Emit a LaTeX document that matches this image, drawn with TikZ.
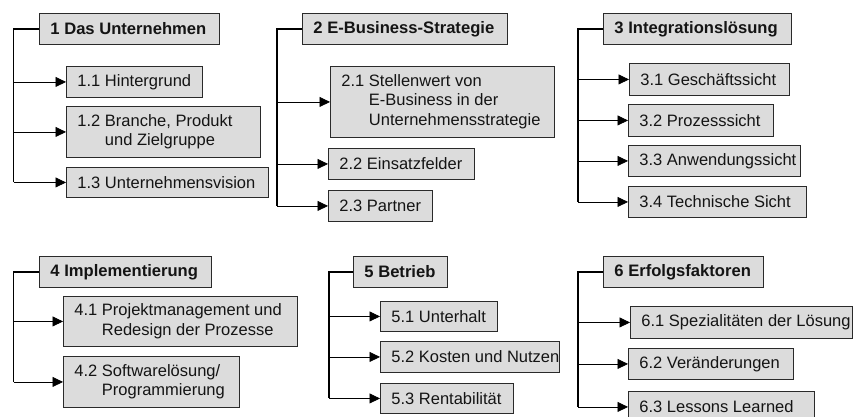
\documentclass[tikz,border=0pt]{standalone}
\usepackage{fontspec}
\setmainfont{Liberation Sans}
\usetikzlibrary{arrows.meta}

\definecolor{boxfill}{HTML}{DCDCDC}
\definecolor{boxline}{HTML}{2A2A2A}
\definecolor{inkcol}{HTML}{141414}

% \bx{name}{x}{y}{width}{height}{style}{text}: box with its top-left corner at (x,y)
\newcommand\bx[7]{%
  \node[#6, anchor=north west, minimum height=#5pt] (#1) at (#2,#3)
    {\makebox[\dimexpr#4pt-22pt\relax][l]{#7}};}
% numbered entry on two or three lines with a hanging indent
\newcommand\hang[2]{\begin{tabular}{@{}l@{ }l@{}}#1 & #2\end{tabular}}

\begin{document}
\begin{tikzpicture}[x=1pt,y=-1pt,
  box/.style={draw=boxline, fill=boxfill, line width=0.9pt, rectangle,
    inner xsep=11pt, inner ysep=0pt, text=inkcol,
    font=\fontsize{16.5pt}{19.5pt}\selectfont},
  headbox/.style={box, font=\fontsize{16.6pt}{19.5pt}\selectfont\bfseries},
  trunk/.style={draw=black, line width=1.2pt},
  branch/.style={draw=black, line width=0.8pt,
    -{Triangle[length=10.5pt,width=10pt]}}]

\useasboundingbox (0,0) rectangle (855,417);
\clip (0,0) rectangle (855,417);

% ---- 1 Das Unternehmen
\bx{h1}{39}{13}{180}{31}{headbox}{1 Das Unternehmen}
\bx{c11}{66}{66}{136}{31}{box}{1.1 Hintergrund}
\bx{c12}{66}{106}{194}{51}{box}{\hang{1.2}{Branche, Produkt\\ & und Zielgruppe}}
\bx{c13}{66}{167}{202}{30}{box}{1.3 Unternehmensvision}
\coordinate (t1) at (13.5,0);
\draw[trunk] (h1.west) -| (t1 |- c13.west);
\foreach \c in {c11,c12,c13} \draw[branch] (t1 |- \c.west) -- (\c.west);

% ---- 2 E-Business-Strategie
\bx{h2}{302}{13}{205}{31}{headbox}{2 E-Business-Strategie}
\bx{c21}{330}{66}{224}{71}{box}{\hang{2.1}{Stellenwert von\\ & E-Business in der\\ & Unternehmensstrategie}}
\bx{c22}{328}{148}{146}{31}{box}{2.2 Einsatzfelder}
\bx{c23}{328}{190}{104}{31}{box}{2.3 Partner}
\coordinate (t2) at (277,0);
\draw[trunk] (h2.west) -| (t2 |- c23.west);
\foreach \c in {c21,c22,c23} \draw[branch] (t2 |- \c.west) -- (\c.west);

% ---- 3 Integrationslösung
\bx{h3}{603}{13}{188}{31}{headbox}{3 Integrationslösung}
\bx{c31}{629}{63}{160}{32}{box}{3.1 Geschäftssicht}
\bx{c32}{628}{104}{145}{32}{box}{3.2 Prozesssicht}
\bx{c33}{628}{145}{172}{31}{box}{3.3 Anwendungssicht}
\bx{c34}{628}{186}{178}{31}{box}{3.4 Technische Sicht}
\coordinate (t3) at (578,0);
\draw[trunk] (h3.west) -| (t3 |- c34.west);
\foreach \c in {c31,c32,c33,c34} \draw[branch] (t3 |- \c.west) -- (\c.west);

% ---- 4 Implementierung
\bx{h4}{39}{256}{172}{31}{headbox}{4 Implementierung}
\bx{c41}{63}{296}{234}{50}{box}{\hang{4.1}{Projektmanagement und\\ & Redesign der Prozesse}}
\bx{c42}{63}{356}{176}{51}{box}{\hang{4.2}{Softwarelösung/\\ & Programmierung}}
\coordinate (t4) at (13.5,0);
\draw[trunk] (h4.west) -| (t4 |- c42.west);
\foreach \c in {c41,c42} \draw[branch] (t4 |- \c.west) -- (\c.west);

% ---- 5 Betrieb
\bx{h5}{353}{256}{94}{31}{headbox}{5 Betrieb}
\bx{c51}{380}{301}{117}{30}{box}{5.1 Unterhalt}
\bx{c52}{380}{341}{179}{31}{box}{5.2 Kosten und Nutzen}
\bx{c53}{380}{383}{133}{30}{box}{5.3 Rentabilität}
\coordinate (t5) at (329,0);
\draw[trunk] (h5.west) -| (t5 |- c53.west);
\foreach \c in {c51,c52,c53} \draw[branch] (t5 |- \c.west) -- (\c.west);

% ---- 6 Erfolgsfaktoren
\bx{h6}{603}{256}{160}{31}{headbox}{6 Erfolgsfaktoren}
\bx{c61}{630}{306}{222}{32}{box}{6.1 Spezialitäten der Lösung}
\bx{c62}{628}{348}{165}{31}{box}{6.2 Veränderungen}
\bx{c63}{628}{391}{186}{31}{box}{6.3 Lessons Learned}
\coordinate (t6) at (578,0);
\draw[trunk] (h6.west) -| (t6 |- c63.west);
\foreach \c in {c61,c62,c63} \draw[branch] (t6 |- \c.west) -- (\c.west);

\end{tikzpicture}
\end{document}
